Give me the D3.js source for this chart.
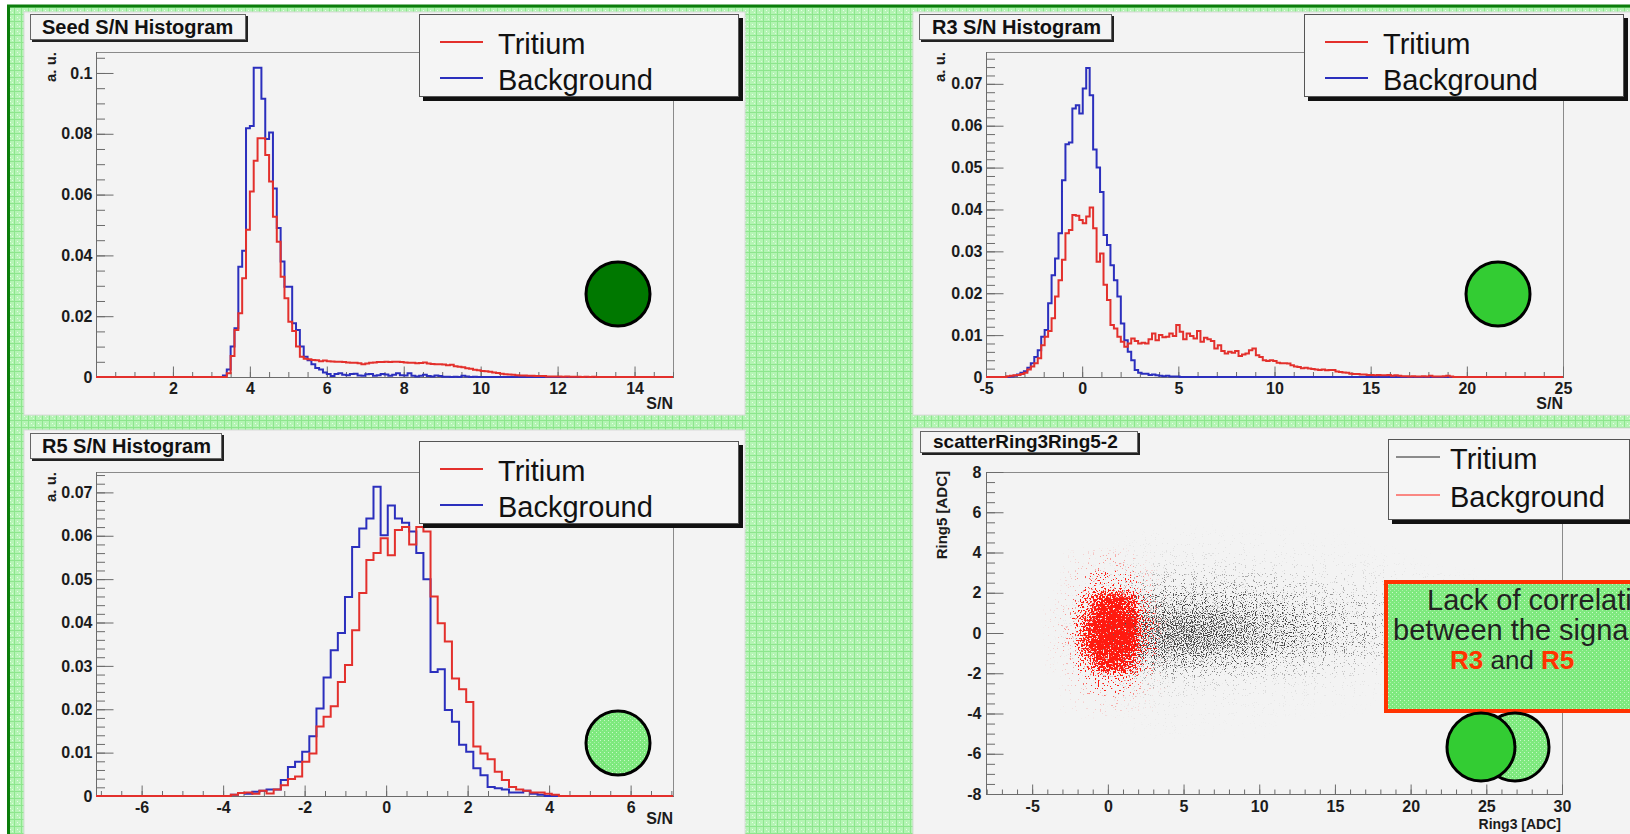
<!DOCTYPE html>
<html><head><meta charset="utf-8">
<script src="https://cdn.jsdelivr.net/npm/d3@7"></script>
<style>
html,body{margin:0;padding:0;background:#fff;overflow:hidden;}
svg{display:block;}
text{font-family:"Liberation Sans",Arial,Helvetica,sans-serif;}
</style></head><body>
<svg id="c" width="1630" height="834"></svg>
<script>
// ---------------- DATA ----------------
// Seed S/N histogram (bins of 0.1 starting at 3.3)
const seedStart = 3.3, seedWidth = 0.1;
const seedTritium = [
 0.0000,0.0012,0.0069,0.0155,0.0210,0.0325,0.0484,0.0610,0.0711,0.0785,
 0.0785,0.0730,0.0643,0.0527,0.0445,0.0330,0.0259,0.0182,0.0151,0.0100,
 0.0067,0.0060,0.0058,0.0056,0.0055,0.0052,0.0054,0.0052,0.0051,0.0050,
 0.0050,0.0049,0.0048,0.0047,0.0047,0.0045,0.0042,0.0044,0.0047,0.0048,
 0.0049,0.0049,0.0050,0.0049,0.0050,0.0050,0.0049,0.0048,0.0047,0.0047,
 0.0045,0.0046,0.0048,0.0044,0.0043,0.0042,0.0042,0.0041,0.0039,0.0040,
 0.0035,0.0034,0.0032,0.0029,0.0027,0.0024,0.0022,0.0020,0.0019,0.0017,
 0.0015,0.0013,0.0011,0.0009,0.0008,0.0007,0.0006,0.0005,0.0005,0.0004,
 0.0004,0.0003,0.0003,0.0003,0.0002,0.0002,0.0002,0.0002,0.0001,0.0002,
 0.0001,0.0001,0.0001,0.0000,0.0001,0.0000,0.0001];
const seedBackground = [
 0.0005,0.0025,0.0100,0.0160,0.0363,0.0415,0.0818,0.0826,0.1017,0.1017,
 0.0915,0.0783,0.0804,0.0620,0.0490,0.0380,0.0297,0.0297,0.0177,0.0155,
 0.0100,0.0067,0.0055,0.0042,0.0030,0.0025,0.0015,0.0010,0.0003,0.0010,
 0.0012,0.0007,0.0006,0.0010,0.0011,0.0005,0.0004,0.0009,0.0010,0.0004,
 0.0006,0.0010,0.0008,0.0004,0.0007,0.0012,0.0006,0.0005,0.0012,0.0004,
 0.0002,0.0004,0.0007,0.0003,0.0002,0.0005,0.0003,0.0001,0.0001,0.0000,
 0.0001,0.0000,0.0004,0.0002,0.0000,0.0001];
const seedXTicks = [2,4,6,8,10,12,14];
const seedYTicks = [0,0.02,0.04,0.06,0.08,0.1];

// R3 S/N histogram (bins of 0.18 starting at -3.93)
const r3Start = -3.93, r3Width = 0.18;
const r3Tritium = [
 0.0002,0.0003,0.0004,0.0005,0.0007,0.0010,0.0018,0.0025,0.0033,0.0045,
 0.0076,0.0096,0.0110,0.0140,0.0192,0.0231,0.0280,0.0343,0.0351,0.0387,
 0.0385,0.0375,0.0367,0.0383,0.0405,0.0355,0.0275,0.0295,0.0220,0.0184,
 0.0124,0.0116,0.0096,0.0084,0.0072,0.0080,0.0092,0.0086,0.0080,0.0082,
 0.0080,0.0090,0.0104,0.0088,0.0100,0.0095,0.0096,0.0104,0.0098,0.0124,
 0.0108,0.0090,0.0104,0.0098,0.0092,0.0110,0.0084,0.0094,0.0090,0.0086,
 0.0068,0.0076,0.0062,0.0056,0.0060,0.0058,0.0062,0.0050,0.0054,0.0056,
 0.0064,0.0068,0.0052,0.0048,0.0040,0.0038,0.0040,0.0038,0.0034,0.0033,
 0.0033,0.0032,0.0028,0.0025,0.0024,0.0021,0.0022,0.0020,0.0019,0.0018,
 0.0017,0.0018,0.0016,0.0017,0.0017,0.0013,0.0012,0.0011,0.0010,0.0008,
 0.0007,0.0007,0.0006,0.0006,0.0005,0.0005,0.0004,0.0005,0.0004,0.0004,
 0.0005,0.0003,0.0004,0.0003,0.0002,0.0002,0.0001,0.0002,0.0001,0.0001,
 0.0002,0.0001,0.0003,0.0001,0.0001,0.0001,0.0002,0.0003,0.0001];
const r3Background = [
 0.0000,0.0001,0.0003,0.0006,0.0010,0.0014,0.0022,0.0033,0.0048,0.0064,
 0.0096,0.0112,0.0176,0.0243,0.0283,0.0343,0.0470,0.0556,0.0560,0.0641,
 0.0649,0.0629,0.0689,0.0738,0.0673,0.0543,0.0500,0.0442,0.0339,0.0315,
 0.0267,0.0231,0.0192,0.0128,0.0088,0.0060,0.0040,0.0017,0.0010,0.0008,
 0.0008,0.0005,0.0006,0.0004,0.0003,0.0002,0.0003,0.0001,0.0001,0.0001];
const r3XTicks = [-5,0,5,10,15,20,25];
const r3YTicks = [0,0.01,0.02,0.03,0.04,0.05,0.06,0.07];

// R5 S/N histogram (bins of 0.175 starting at -3.81)
const r5Start = -3.81, r5Width = 0.175;
const r5Tritium = [
 0.0003,0.0007,0.0008,0.0005,0.0012,0.0006,0.0015,0.0025,0.0039,0.0045,
 0.0079,0.0098,0.0160,0.0183,0.0207,0.0263,0.0302,0.0382,0.0468,0.0544,
 0.0560,0.0594,0.0555,0.0613,0.0620,0.0580,0.0620,0.0610,0.0460,0.0398,
 0.0356,0.0271,0.0246,0.0217,0.0114,0.0098,0.0085,0.0056,0.0037,0.0021,
 0.0015,0.0012,0.0008,0.0008,0.0005,0.0003];
const r5Background = [
 0.0003,0.0007,0.0005,0.0010,0.0012,0.0015,0.0015,0.0037,0.0067,0.0079,
 0.0102,0.0138,0.0202,0.0273,0.0336,0.0376,0.0459,0.0574,0.0617,0.0640,
 0.0713,0.0601,0.0670,0.0640,0.0630,0.0610,0.0560,0.0500,0.0286,0.0292,
 0.0198,0.0171,0.0118,0.0102,0.0064,0.0048,0.0021,0.0018,0.0015,0.0008,
 0.0008,0.0012,0.0005,0.0003];
const r5XTicks = [-6,-4,-2,0,2,4,6];
const r5YTicks = [0,0.01,0.02,0.03,0.04,0.05,0.06,0.07];

// scatterRing3Ring5-2 : point density (relative, 0..1)
const tritXStart = [-3,-1,1,3,5,7,9,11,13,15,17,19,21,23,25]; // cell width 2 ADC
const tritYStart = [4,3,2,1,0,-1,-2,-3,-4,-5];                 // cell height 1 ADC
const tritDensity = [
 [0,   0,   .02, .03, .03, .03, .02, .02, .01, .01, 0,   0,   0,   0,   0],
 [0,   .02, .05, .08, .08, .07, .06, .05, .04, .03, .02, .01, 0,   0,   0],
 [0,   .08, .20, .30, .30, .28, .25, .20, .15, .12, .08, .05, .03, .01, 0],
 [.02, .20, .50, .60, .60, .55, .50, .42, .35, .28, .20, .12, .06, .02, 0],
 [.05, .35, .75, .85, .85, .80, .70, .60, .50, .40, .30, .18, .08, .03, 0],
 [.05, .35, .75, .90, .90, .80, .70, .60, .50, .38, .28, .15, .07, .02, 0],
 [.02, .20, .45, .55, .50, .45, .40, .32, .25, .18, .12, .07, .03, .01, 0],
 [0,   .05, .12, .15, .12, .10, .08, .06, .05, .04, .02, .01, 0,   0,   0],
 [0,   .01, .03, .04, .03, .03, .02, .02, .01, .01, 0,   0,   0,   0,   0],
 [0,   0,   .01, .02, .01, .01, .01, 0,   0,   0,   0,   0,   0,   0,   0]];
const bkgXStart = [-4,-3,-2,-1,0,1,2,3];   // cell width 1 ADC
const bkgYStart = [3,2,1,0,-1,-2,-3,-4];   // cell height 1 ADC
const bkgDensity = [
 [0,   .01, .03, .05, .05, .04, .01, 0  ],
 [0,   .02, .10, .22, .24, .16, .05, .01],
 [.01, .04, .40, .85, .90, .75, .18, .02],
 [.02, .08, .65, 1,   1,   .95, .30, .03],
 [.02, .08, .65, 1,   1,   .95, .30, .03],
 [.01, .04, .35, .80, .85, .65, .15, .02],
 [0,   .02, .08, .18, .20, .12, .04, .01],
 [0,   .01, .02, .03, .04, .02, .01, 0  ]];
const scXTicks = [-5,0,5,10,15,20,25,30];
const scYTicks = [-8,-6,-4,-2,0,2,4,6,8];

const legendNames = ["Tritium","Background"];
const noteLines = ["Lack of correlation","between the signals"];

// ---------------- DRAWING ----------------
const W = 1630, H = 834;
const svg = d3.select("#c");
const defs = svg.append("defs");
const FONT = '"Liberation Sans",Arial,Helvetica,sans-serif';
const RED = "#e3302c", BLUE = "#2b2fbd";
const TICKFS = 16;

// textures
const pg = defs.append("pattern").attr("id","bgGrid").attr("width",7).attr("height",7).attr("patternUnits","userSpaceOnUse");
pg.append("rect").attr("width",7).attr("height",7).attr("fill","#b4f4b4");
pg.append("path").attr("d","M0,0.5H7M0.5,0V7").attr("stroke","#8de68d").attr("stroke-width",1);
pg.append("rect").attr("x",3).attr("y",3).attr("width",1).attr("height",1).attr("fill","#e8ffe8");
pg.append("rect").attr("x",5).attr("y",5).attr("width",1).attr("height",1).attr("fill","#dcfcdc");
const pc = defs.append("pattern").attr("id","circGrid").attr("width",4).attr("height",4).attr("patternUnits","userSpaceOnUse");
pc.append("rect").attr("width",4).attr("height",4).attr("fill","#7ee97e");
pc.append("rect").attr("x",0).attr("y",0).attr("width",1).attr("height",1).attr("fill","#c9f9c9");
pc.append("rect").attr("x",2).attr("y",2).attr("width",1).attr("height",1).attr("fill","#a8f3a8");

svg.append("rect").attr("width",W).attr("height",H).attr("fill","#fff");
svg.append("rect").attr("x",8.5).attr("y",6).attr("width",W+20).attr("height",H+20)
  .attr("fill","url(#bgGrid)").attr("stroke","#0b7d0b").attr("stroke-width",3);

function panelBg(x,y,w,h){
  svg.append("rect").attr("x",x).attr("y",y).attr("width",w).attr("height",h)
    .attr("fill","#f3f3f3").attr("stroke","#dadada").attr("stroke-width",1);
}
function titleBox(b){
  svg.append("rect").attr("x",b.x0+2).attr("y",b.y0+2).attr("width",b.x1-b.x0-2).attr("height",b.y1-b.y0-2).attr("fill","#222");
  svg.append("rect").attr("x",b.x0+0.5).attr("y",b.y0+0.5).attr("width",b.x1-b.x0-3).attr("height",b.y1-b.y0-3)
    .attr("fill","#f4f4f4").attr("stroke","#666").attr("stroke-width",1);
  svg.append("text").attr("x",b.tx).attr("y",b.ty).attr("font-family",FONT).attr("font-weight","bold")
    .attr("font-size",b.fs).attr("fill","#111").text(b.text);
}
function legendBox(b, colors, lw){
  svg.append("rect").attr("x",b.x0+4).attr("y",b.y0+4).attr("width",b.x1-b.x0-4).attr("height",b.y1-b.y0-4).attr("fill","#111");
  svg.append("rect").attr("x",b.x0+0.5).attr("y",b.y0+0.5).attr("width",b.x1-b.x0-5).attr("height",b.y1-b.y0-5)
    .attr("fill","#f5f5f5").attr("stroke","#555").attr("stroke-width",1);
  legendNames.forEach((n,i)=>{
    const yy = b.y0 + b.ly + i*b.dy;
    svg.append("line").attr("x1",b.x0+b.l0).attr("x2",b.x0+b.l1).attr("y1",yy).attr("y2",yy)
      .attr("stroke",colors[i]).attr("stroke-width",lw);
    svg.append("text").attr("x",b.x0+b.tx).attr("y",yy+12).attr("font-family",FONT)
      .attr("font-size",b.fs).attr("fill","#111").text(n);
  });
}
function circle(cx,cy,r,fill){
  svg.append("circle").attr("cx",cx).attr("cy",cy).attr("r",r).attr("fill",fill)
    .attr("stroke","#000").attr("stroke-width",3);
}
function minorTicks(d0,d1,step){
  const out=[]; const n0=Math.ceil(d0/step-1e-9), n1=Math.floor(d1/step+1e-9);
  for(let k=n0;k<=n1;k++) out.push(+(k*step).toFixed(6));
  return out;
}
function styleAxis(g){
  g.attr("color","#6b6b6b").attr("font-family",FONT).attr("font-weight","bold").attr("font-size",TICKFS);
  g.selectAll("text").attr("fill","#1b1b1b");
  g.select(".domain").remove();
}
function axes(c, x, y){
  const f=c.frame;
  svg.append("rect").attr("x",f.x0+0.5).attr("y",f.y0+0.5).attr("width",f.x1-f.x0).attr("height",f.y1-f.y0)
    .attr("fill","none").attr("stroke","#8a8a8a").attr("stroke-width",1);
  svg.append("line").attr("x1",f.x0+0.5).attr("x2",f.x0+0.5).attr("y1",f.y0).attr("y2",f.y1+1).attr("stroke","#6b6b6b");
  svg.append("line").attr("x1",f.x0).attr("x2",f.x1+1).attr("y1",f.y1+0.5).attr("y2",f.y1+0.5).attr("stroke","#6b6b6b");
  const fmt = d => String(d);
  const gy = svg.append("g").attr("transform",`translate(${f.x0+0.5},0)`)
    .call(d3.axisLeft(y).tickValues(c.yTicks).tickSize(-c.ytl).tickPadding(c.ypad).tickFormat(fmt));
  styleAxis(gy);
  const gym = svg.append("g").attr("transform",`translate(${f.x0+0.5},0)`)
    .call(d3.axisLeft(y).tickValues(minorTicks(y.domain()[0],y.domain()[1],c.yMinor)).tickSize(-c.ytl/2).tickFormat(""));
  styleAxis(gym);
  const gx = svg.append("g").attr("transform",`translate(0,${f.y1+0.5})`)
    .call(d3.axisBottom(x).tickValues(c.xTicks).tickSize(-c.xtl).tickPadding(c.xpad).tickFormat(fmt));
  styleAxis(gx);
  const gxm = svg.append("g").attr("transform",`translate(0,${f.y1+0.5})`)
    .call(d3.axisBottom(x).tickValues(minorTicks(x.domain()[0],x.domain()[1],c.xMinor)).tickSize(-c.xtl/2).tickFormat(""));
  styleAxis(gxm);
  svg.append("text").attr("transform",`translate(${c.yLab.x},${c.yLab.y}) rotate(-90)`).attr("text-anchor","end")
    .attr("font-family",FONT).attr("font-weight","bold").attr("font-size",c.yLab.fs).attr("fill","#1b1b1b").text(c.yLab.text);
  svg.append("text").attr("x",c.xLab.x).attr("y",c.xLab.y).attr("text-anchor","end")
    .attr("font-family",FONT).attr("font-weight","bold").attr("font-size",c.xLab.fs).attr("fill","#1b1b1b").text(c.xLab.text);
}

function histPanel(c){
  panelBg(c.panel.x,c.panel.y,c.panel.w,c.panel.h);
  titleBox(c.title);
  const f=c.frame;
  const x=d3.scaleLinear().domain(c.xDomain).range([f.x0,f.x1]);
  const y=d3.scaleLinear().domain(c.yDomain).range([f.y1,f.y0]);
  axes(c,x,y);
  const cid="clip"+c.id;
  defs.append("clipPath").attr("id",cid).append("rect").attr("x",f.x0).attr("y",f.y0).attr("width",f.x1-f.x0+1).attr("height",f.y1-f.y0+3);
  const g=svg.append("g").attr("clip-path",`url(#${cid})`);
  const line=d3.line().x(d=>x(d[0])).y(d=>y(d[1])).curve(d3.curveStepAfter);
  c.series.forEach(s=>{
    const pts=[[c.xDomain[0],0]];
    s.values.forEach((v,i)=>pts.push([s.start+i*s.width, v]));
    pts.push([s.start+s.values.length*s.width,0]);
    pts.push([c.xDomain[1],0]);
    g.append("path").attr("d",line(pts)).attr("fill","none").attr("stroke",s.color).attr("stroke-width",2).attr("stroke-linejoin","miter");
  });
  legendBox(c.legend,[RED,BLUE],2);
  circle(c.circle.cx,c.circle.cy,c.circle.r,c.circle.fill);
}

const LG = {fs:29, ly:28, dy:36, l0:21, l1:64, tx:79};
const histCfgs = [
 {id:1, panel:{x:24,y:12,w:721,h:403},
  title:{x0:30,y0:14,x1:248,y1:42,tx:42,ty:34,fs:20,text:"Seed S/N Histogram"},
  frame:{x0:96,x1:673,y0:52,y1:377}, xDomain:[0,15], yDomain:[0,0.1069],
  xTicks:seedXTicks, yTicks:seedYTicks, xMinor:0.5, yMinor:0.005, ytl:17, xtl:11, ypad:4, xpad:5,
  yLab:{x:56,y:52,fs:15,text:"a. u."}, xLab:{x:673,y:409,fs:16,text:"S/N"},
  legend:Object.assign({x0:419,y0:14,x1:743,y1:101},LG), circle:{cx:618,cy:294,r:32,fill:"#007800"},
  series:[{color:BLUE,start:seedStart,width:seedWidth,values:seedBackground},
          {color:RED,start:seedStart,width:seedWidth,values:seedTritium}]},
 {id:2, panel:{x:913,y:12,w:730,h:403},
  title:{x0:919,y0:14,x1:1114,y1:42,tx:932,ty:34,fs:20,text:"R3 S/N Histogram"},
  frame:{x0:986,x1:1563,y0:52,y1:377}, xDomain:[-5,25], yDomain:[0,0.0776],
  xTicks:r3XTicks, yTicks:r3YTicks, xMinor:1, yMinor:0.002, ytl:17, xtl:11, ypad:4, xpad:5,
  yLab:{x:945,y:52,fs:15,text:"a. u."}, xLab:{x:1563,y:409,fs:16,text:"S/N"},
  legend:Object.assign({x0:1304,y0:14,x1:1628,y1:101},LG), circle:{cx:1498,cy:294,r:32,fill:"#33cc33"},
  series:[{color:BLUE,start:r3Start,width:r3Width,values:r3Background},
          {color:RED,start:r3Start,width:r3Width,values:r3Tritium}]},
 {id:3, panel:{x:24,y:430,w:721,h:420},
  title:{x0:30,y0:433,x1:224,y1:461,tx:42,ty:453,fs:20,text:"R5 S/N Histogram"},
  frame:{x0:96,x1:673,y0:472,y1:796}, xDomain:[-7.12,7.04], yDomain:[0,0.0747],
  xTicks:r5XTicks, yTicks:r5YTicks, xMinor:0.5, yMinor:0.002, ytl:17, xtl:11, ypad:4, xpad:5,
  yLab:{x:56,y:472,fs:15,text:"a. u."}, xLab:{x:673,y:824,fs:16,text:"S/N"},
  legend:Object.assign({x0:419,y0:441,x1:743,y1:528},LG), circle:{cx:618,cy:743,r:32,fill:"url(#circGrid)"},
  series:[{color:BLUE,start:r5Start,width:r5Width,values:r5Background},
          {color:RED,start:r5Start,width:r5Width,values:r5Tritium}]}
];
histCfgs.forEach(histPanel);

// ---------- scatter panel ----------
(function(){
  const c = {panel:{x:913,y:428,w:730,h:420},
    title:{x0:920,y0:431,x1:1140,y1:455,tx:933,ty:448,fs:19,text:"scatterRing3Ring5-2"},
    frame:{x0:986,x1:1562,y0:472,y1:794}, xDomain:[-8.05,30], yDomain:[-8,8],
    xTicks:scXTicks, yTicks:scYTicks, xMinor:1, yMinor:0.5, ytl:17, xtl:10, ypad:5, xpad:6,
    yLab:{x:947,y:471,fs:15,text:"Ring5 [ADC]"}, xLab:{x:1561,y:829,fs:14,text:"Ring3 [ADC]"}};
  panelBg(c.panel.x,c.panel.y,c.panel.w,c.panel.h);
  titleBox(c.title);
  const f=c.frame;
  const x=d3.scaleLinear().domain(c.xDomain).range([f.x0,f.x1]);
  const y=d3.scaleLinear().domain(c.yDomain).range([f.y1,f.y0]);
  defs.append("clipPath").attr("id","clipSc").append("rect").attr("x",f.x0+1).attr("y",f.y0+1).attr("width",f.x1-f.x0-1).attr("height",f.y1-f.y0-1);
  function stipple(id,color,blur,freq,seed,slope){
    const fl=defs.append("filter").attr("id",id).attr("filterUnits","userSpaceOnUse")
      .attr("x",f.x0).attr("y",f.y0).attr("width",f.x1-f.x0).attr("height",f.y1-f.y0)
      .attr("color-interpolation-filters","sRGB");
    fl.append("feGaussianBlur").attr("in","SourceAlpha").attr("stdDeviation",blur).attr("result","dens");
    fl.append("feTurbulence").attr("type","fractalNoise").attr("baseFrequency",freq).attr("numOctaves",1).attr("seed",seed).attr("result","noise");
    fl.append("feColorMatrix").attr("in","noise").attr("type","matrix")
      .attr("values","0 0 0 0 0  0 0 0 0 0  0 0 0 0 0  2.6 0 0 0 -0.8").attr("result","na");
    fl.append("feComposite").attr("in","dens").attr("in2","na").attr("operator","arithmetic")
      .attr("k1",0).attr("k2",1).attr("k3",-1).attr("k4",0).attr("result","diff");
    const ct=fl.append("feComponentTransfer").attr("in","diff").attr("result","m");
    ct.append("feFuncA").attr("type","linear").attr("slope",slope).attr("intercept",0);
    fl.append("feFlood").attr("flood-color",color).attr("result","col");
    fl.append("feComposite").attr("in","col").attr("in2","m").attr("operator","in");
  }
  stipple("stK","#444","9 7",0.9,4,3);
  stipple("stR","#ff1a10","4 4",0.6,9,8);
  const gc=svg.append("g").attr("clip-path","url(#clipSc)");
  const gk=gc.append("g").attr("filter","url(#stK)");
  tritDensity.forEach((row,j)=>row.forEach((d,i)=>{
    if(d<=0) return;
    gk.append("rect").attr("x",x(tritXStart[i])).attr("y",y(tritYStart[j]+1))
      .attr("width",x(tritXStart[i]+2)-x(tritXStart[i])).attr("height",y(tritYStart[j])-y(tritYStart[j]+1))
      .attr("fill","#000").attr("fill-opacity",d*0.7);
  }));
  const gr=gc.append("g").attr("filter","url(#stR)");
  bkgDensity.forEach((row,j)=>row.forEach((d,i)=>{
    if(d<=0) return;
    gr.append("rect").attr("x",x(bkgXStart[i])).attr("y",y(bkgYStart[j]+1))
      .attr("width",x(bkgXStart[i]+1)-x(bkgXStart[i])).attr("height",y(bkgYStart[j])-y(bkgYStart[j]+1))
      .attr("fill","#000").attr("fill-opacity",d);
  }));
  axes(c,x,y);
  legendBox({x0:1388,y0:439,x1:1634,y1:524,fs:29,ly:18,dy:38,l0:8,l1:52,tx:62},["#222","#ff1a10"],1);
  // note box
  svg.append("rect").attr("x",1386).attr("y",582).attr("width",320).attr("height",129)
    .attr("fill","url(#circGrid)").attr("stroke","#ff3300").attr("stroke-width",4);
  const nf='"DejaVu Sans",Verdana,sans-serif';
  svg.append("text").attr("x",1427).attr("y",610).attr("font-family",nf).attr("font-size",29).attr("fill","#222").text(noteLines[0]);
  svg.append("text").attr("x",1393).attr("y",640).attr("font-family",nf).attr("font-size",29).attr("fill","#222").text(noteLines[1]);
  const t3=svg.append("text").attr("x",1450).attr("y",669).attr("font-family",nf).attr("font-size",26).attr("fill","#222");
  t3.append("tspan").attr("font-weight","bold").attr("fill","#ff3300").text("R3");
  t3.append("tspan").text(" and ");
  t3.append("tspan").attr("font-weight","bold").attr("fill","#ff3300").text("R5");
  circle(1515,747,34,"url(#circGrid)");
  circle(1481,747,34,"#33cc33");
})();
</script>
</body></html>
